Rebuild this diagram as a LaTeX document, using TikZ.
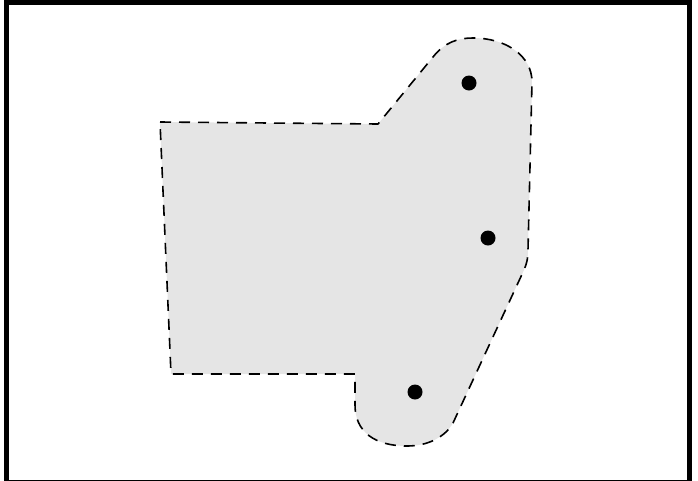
\documentclass[tikz,border=0pt]{standalone}
\usepackage{xcolor}
\usepackage{tikz}
\tikzset{
  framebox/.style={draw=black, line width=5pt},
  hullregion/.style={draw=black, fill=black!10, line width=1.6pt, dash pattern=on 11pt off 8pt, line join=round},
  pointdot/.style={circle, fill=black, inner sep=0pt, minimum size=15pt}
}

\begin{document}
\begin{tikzpicture}[x=1pt, y=-1pt]
\useasboundingbox (0,0) rectangle (698,480);
% outer frame, bottom edge falls just below the page
\draw[framebox] (6.5,2.5) rectangle (689.5,482.5);
% dashed region around the points
\path[hullregion] (160,122) -- (378,124) -- (433,57)
  .. controls (445,42) and (458,38) .. (473,38)
  .. controls (505,38) and (532,55) .. (532,82)
  -- (528,250)
  .. controls (528,258) and (527,263) .. (524,270)
  -- (453,423)
  .. controls (445,437) and (428,446) .. (407,446)
  .. controls (375,446) and (355,432) .. (355,405)
  -- (355,374) -- (171,374) -- cycle;
% points
\node[pointdot] (ptop) at (469,83) {};
\node[pointdot] (pmid) at (488,238) {};
\node[pointdot] (plow) at (415,392) {};
\end{tikzpicture}
\end{document}
